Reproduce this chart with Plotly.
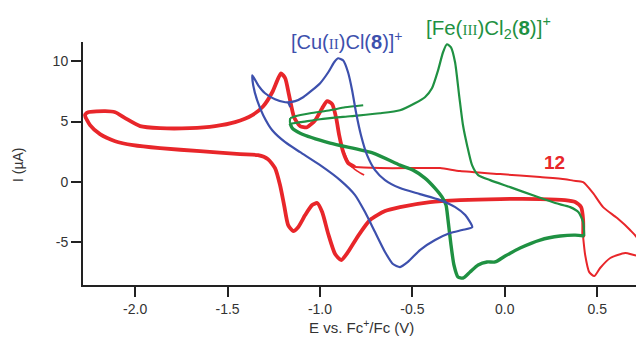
import plotly.graph_objects as go

# ---- data (E in V vs Fc+/Fc, I in uA) ----
red_thick_E = [0.424, 0.424, 0.413, 0.381, 0.326, 0.191, -0.025, -0.242, -0.404, -0.567, -0.648, -0.729,
               -0.794, -0.848, -0.885, -0.918, -0.955, -0.988, -1.015, -1.042, -1.080, -1.118, -1.145,
               -1.172, -1.194, -1.216, -1.243, -1.281, -1.335, -1.432, -1.649, -1.865, -2.011, -2.108,
               -2.190, -2.244, -2.271, -2.254, -2.162, -2.108, -2.054, -1.973, -1.865, -1.703, -1.567,
               -1.459, -1.366, -1.307, -1.258, -1.226, -1.210, -1.188, -1.167, -1.140, -1.107, -1.070,
               -1.026, -0.988, -0.961, -0.934, -0.912, -0.896, -0.874, -0.847, -0.810]
red_thick_I = [-4.59, -3.17, -2.10, -1.68, -1.52, -1.43, -1.43, -1.52, -1.68, -2.10, -2.43, -3.17,
               -4.50, -5.82, -6.49, -5.99, -4.33, -2.51, -1.76, -1.93, -2.76, -3.76, -4.08,
               -3.59, -1.93, -0.27, 1.13, 1.88, 2.21, 2.29, 2.54, 2.79, 3.04, 3.37,
               3.95, 4.70, 5.53, 5.77, 5.86, 5.77, 5.28, 4.62, 4.45, 4.45, 4.62,
               4.95, 5.53, 6.27, 7.43, 8.59, 9.00, 8.59, 7.18, 5.36, 4.61, 4.53,
               5.11, 6.11, 6.69, 6.44, 5.28, 3.87, 2.46, 1.55, 1.22]

red_thin_E = [-0.810, -0.675, -0.459, -0.350, -0.242, -0.025, 0.191, 0.326, 0.370, 0.424, 0.478,
              0.532, 0.608, 0.678, 0.720, 0.720, 0.652, 0.571, 0.516, 0.484, 0.457, 0.435, 0.424]
red_thin_I = [1.22, 1.14, 1.14, 1.14, 0.89, 0.64, 0.39, 0.22, 0.10, -0.02, -0.94,
              -2.10, -3.01, -4.00, -4.75, -6.10, -5.91, -6.32, -7.15, -7.82, -7.49, -6.07, -4.59]

red_start_E = [-0.874, -0.836, -0.798, -0.761]
red_start_I = [2.62, 1.38, 0.89, 0.56]

blue_E = [-1.366, -1.334, -1.297, -1.243, -1.188, -1.134, -1.091, -1.042, -0.999, -0.955, -0.923,
          -0.902, -0.875, -0.848, -0.826, -0.805, -0.778, -0.745, -0.702, -0.648, -0.567, -0.459,
          -0.350, -0.268, -0.214, -0.176, -0.230, -0.296, -0.377, -0.459, -0.524, -0.567, -0.605,
          -0.648, -0.702, -0.756, -0.810, -0.891, -0.999, -1.107, -1.188, -1.258, -1.307, -1.340,
          -1.361, -1.366]
blue_I = [8.84, 8.01, 7.35, 6.85, 6.60, 6.69, 7.02, 7.60, 8.18, 9.09, 9.92,
          10.25, 10.08, 9.09, 7.60, 5.77, 3.87, 2.21, 0.97, 0.14, -0.52, -1.02,
          -1.52, -2.10, -2.76, -3.76, -4.00, -4.25, -4.83, -5.66, -6.65, -7.07, -6.82,
          -5.82, -4.17, -2.51, -1.10, 0.14, 1.38, 2.46, 3.29, 4.28, 5.53, 6.77,
          8.01, 8.84]
blue_tail_E = [-1.161, -1.172]
blue_tail_I = [6.19, 6.60]

green_start_E = [-0.766, -0.864, -0.945, -1.053, -1.134, -1.161]
green_start_I = [6.35, 6.18, 5.94, 5.69, 5.44, 5.28]

green_ox_E = [-1.161, -1.161, -1.107, -0.999, -0.837, -0.675, -0.567, -0.486, -0.432, -0.394, -0.361,
              -0.334, -0.313, -0.291, -0.269, -0.247, -0.226, -0.204, -0.177, -0.144, -0.079, 0.029,
              0.164, 0.273, 0.354, 0.398, 0.424, 0.430]
green_ox_I = [5.28, 4.85, 4.95, 5.19, 5.44, 5.69, 5.94, 6.52, 7.02, 7.76, 9.25,
              10.75, 11.41, 11.16, 9.92, 7.18, 4.69, 3.04, 1.38, 0.56, 0.14, -0.44,
              -1.18, -1.76, -2.10, -2.51, -3.34, -4.50]

green_red_E = [0.430, 0.381, 0.300, 0.191, 0.083, 0.002, -0.052, -0.096, -0.144, -0.188, -0.226,
               -0.253, -0.275, -0.291, -0.307, -0.318, -0.339, -0.378, -0.432, -0.496, -0.567,
               -0.712, -0.945, -1.107, -1.150, -1.161]
green_red_I = [-4.50, -4.42, -4.50, -4.83, -5.49, -6.16, -6.65, -6.65, -6.90, -7.48, -7.98,
               -7.90, -6.90, -5.24, -3.17, -1.93, -1.27, -0.52, 0.31, 0.97, 1.38,
               2.38, 3.21, 4.03, 4.45, 4.85]

x_ticks = [-2.0, -1.5, -1.0, -0.5, 0.0, 0.5]
x_ticklabels = ["-2.0", "-1.5", "-1.0", "-0.5", "0.0", "0.5"]
y_ticks = [-5, 0, 5, 10]
y_ticklabels = ["-5", "0", "5", "10"]

RED = "#e8262a"
BLUE = "#3d50ad"
GREEN = "#1f9142"

fig = go.Figure()

def add(x, y, color, width):
    fig.add_trace(go.Scatter(x=x, y=y, mode="lines",
                             line=dict(color=color, width=width, shape="spline", smoothing=0.6),
                             hoverinfo="skip", showlegend=False))

add(red_thin_E, red_thin_I, RED, 2)
add(red_start_E, red_start_I, RED, 1.6)
add(red_thick_E, red_thick_I, RED, 3.8)
add(green_red_E, green_red_I, GREEN, 3.4)
add(green_ox_E, green_ox_I, GREEN, 2.2)
add(green_start_E, green_start_I, GREEN, 2)
add(blue_E, blue_I, BLUE, 2.2)
add(blue_tail_E, blue_tail_I, BLUE, 2)

fig.update_layout(
    width=636, height=338,
    margin=dict(l=83, r=0, t=42, b=53),
    paper_bgcolor="white", plot_bgcolor="white",
    font=dict(family="Liberation Sans, Arial, sans-serif", size=14, color="#333333"),
    xaxis=dict(range=[-2.282, 0.71], showgrid=False, zeroline=False,
               showline=True, linecolor="#222222", linewidth=2,
               ticks="outside", ticklen=10, tickwidth=2, tickcolor="#222222",
               tickvals=x_ticks, ticktext=x_ticklabels,
               tickfont=dict(size=14, color="#333333")),
    yaxis=dict(range=[-8.56, 11.6], showgrid=False, zeroline=False,
               showline=True, linecolor="#222222", linewidth=2,
               ticks="outside", ticklen=10, tickwidth=2, tickcolor="#222222",
               tickvals=y_ticks, ticktext=y_ticklabels,
               tickfont=dict(size=14, color="#333333")),
)

serif = "font-family:Liberation Serif, Times New Roman, serif;font-size:15px"
fig.add_annotation(x=0.4783, y=1.008, xref="paper", yref="paper", showarrow=False,
                   text=f"[Cu(<span style='{serif}'>II</span>)Cl(<b>8</b>)]<sup>+</sup>",
                   font=dict(size=20, color=BLUE), xanchor="center", yanchor="middle")
fig.add_annotation(x=0.7333, y=1.0617, xref="paper", yref="paper", showarrow=False,
                   text=f"[Fe(<span style='{serif}'>III</span>)Cl<sub>2</sub>(<b>8</b>)]<sup>+</sup>",
                   font=dict(size=20.5, color=GREEN), xanchor="center", yanchor="middle")
fig.add_annotation(x=0.267, y=1.63, xref="x", yref="y", showarrow=False,
                   text="<b>12</b>", font=dict(size=19, color=RED),
                   xanchor="center", yanchor="middle")
fig.add_annotation(x=-0.1175, y=0.494, xref="paper", yref="paper", showarrow=False,
                   text="I (µA)", textangle=-90, font=dict(size=14, color="#333333"),
                   xanchor="center", yanchor="middle")
fig.add_annotation(x=0.503, y=-0.17, xref="paper", yref="paper", showarrow=False,
                   text="E vs. Fc<sup>+</sup>/Fc (V)", font=dict(size=15, color="#333333"),
                   xanchor="center", yanchor="middle")

fig.write_html("out.html", config={"displayModeBar": False},
               post_script="document.body.style.margin='0';document.body.style.overflow='hidden';")
